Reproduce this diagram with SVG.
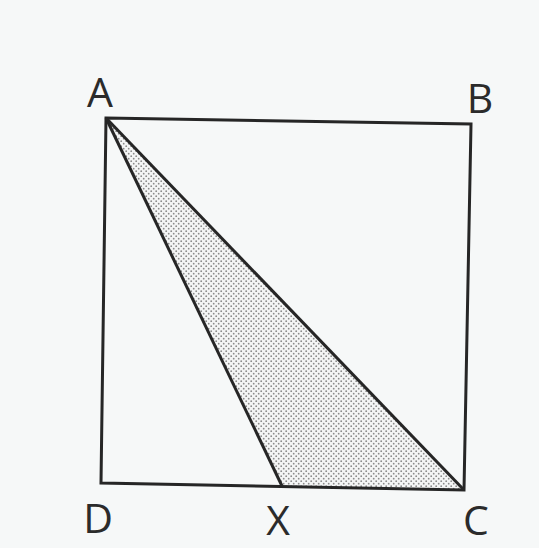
<svg xmlns="http://www.w3.org/2000/svg" width="539" height="548" viewBox="0 0 539 548">
<defs>
<pattern id="dots" width="5" height="5" patternUnits="userSpaceOnUse">
<circle cx="1.2" cy="1.2" r="0.9" fill="#666"/>
<circle cx="3.7" cy="3.7" r="0.9" fill="#666"/>
</pattern>
<style>
.edge{fill:none;stroke:#262626;stroke-width:3;stroke-linejoin:miter}
.lbl{font-family:"Open Sans","Noto Sans",sans-serif;font-size:41px;fill:#2b2b2b}
</style>
</defs>
<rect width="539" height="548" fill="#f6f8f8"/>
<g id="shade">
<polygon points="106,119 282,486 464,490" fill="#f4f5f5"/>
<polygon points="106,119 282,486 464,490" fill="url(#dots)" opacity="0.75"/>
</g>
<g id="connectors">
<polygon class="edge" points="106,118 471,124 464,490 101,483"/>
<line class="edge" x1="106" y1="118" x2="282" y2="486"/>
<line class="edge" x1="106" y1="118" x2="464" y2="490"/>
</g>
<g id="A"><text class="lbl" x="100" y="107" text-anchor="middle">A</text></g>
<g id="B"><text class="lbl" x="480" y="113" text-anchor="middle">B</text></g>
<g id="D"><text class="lbl" x="98" y="533" text-anchor="middle">D</text></g>
<g id="X"><text class="lbl" x="278" y="535" text-anchor="middle">X</text></g>
<g id="C"><text class="lbl" x="476" y="535" text-anchor="middle">C</text></g>
</svg>
